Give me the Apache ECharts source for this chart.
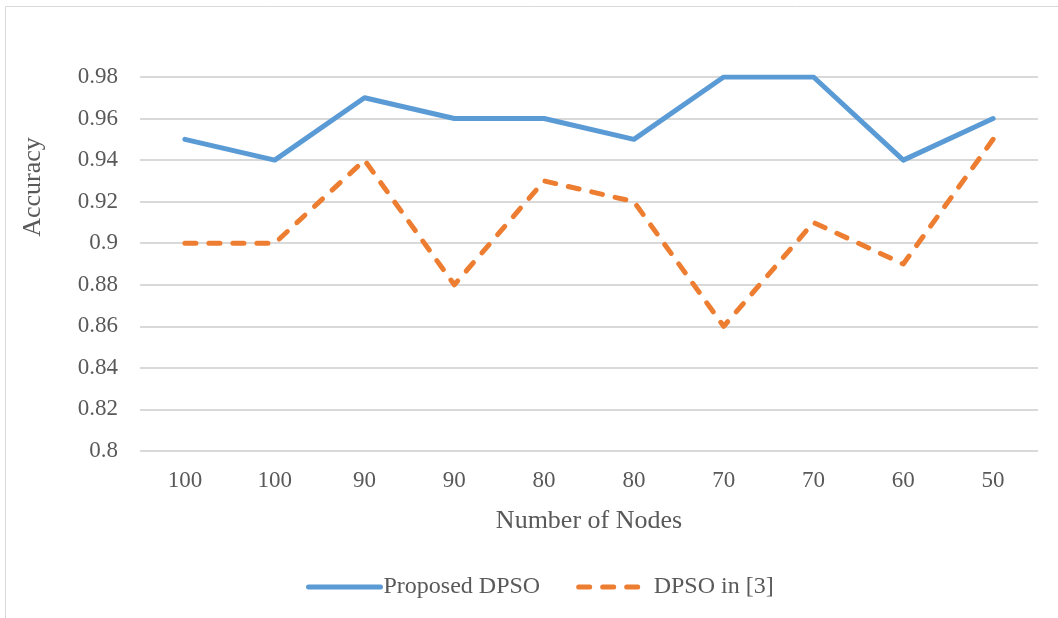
<!DOCTYPE html>
<html><head><meta charset="utf-8">
<script src="https://cdn.jsdelivr.net/npm/echarts@6/dist/echarts.min.js"></script>
<style>html,body{margin:0;padding:0;background:#fff}#c{width:1058px;height:618px}</style>
</head><body><div id="c"></div>
<script>
var categories = ['100','100','90','90','80','80','70','70','60','50'];
var proposed = [0.95,0.94,0.97,0.96,0.96,0.95,0.98,0.98,0.94,0.96];
var dpso3 = [0.90,0.90,0.94,0.88,0.93,0.92,0.86,0.91,0.89,0.95];
var yTicks = {min:0.8, max:0.98, step:0.02};

var font = 'Liberation Serif';
var blue = '#5b9bd5', orange = '#ed7d31';
var chart = echarts.init(document.getElementById('c'));
chart.setOption({
  animation:false,
  textStyle:{fontFamily:font},
  graphic:[
    {type:'rect', shape:{x:5.5,y:6.5,width:1060,height:620}, style:{fill:'none',stroke:'#d9d9d9',lineWidth:1}},
    {type:'text', x:33, y:187, rotation:Math.PI/2, style:{text:'Accuracy', fontFamily:font, fontSize:26, fill:'#595959', align:'center', verticalAlign:'middle'}}
  ],
  grid:{left:140, right:20, top:77, bottom:167},
  legend:{
    bottom:14, left:301, itemWidth:72, itemHeight:14, itemGap:36,
    itemStyle:{opacity:0},
    textStyle:{fontFamily:font, fontSize:24, color:'#595959', padding:[0,0,0,-2]},
    data:[
      {name:'Proposed DPSO', lineStyle:{color:blue, width:5, cap:'round'}},
      {name:'DPSO in [3]', lineStyle:{color:orange, width:5, type:[11,13], cap:'round'}}
    ]
  },
  xAxis:{
    type:'category', data:categories, boundaryGap:true,
    axisLine:{show:false}, axisTick:{show:false},
    axisLabel:{fontFamily:font, fontSize:23, color:'#595959', margin:18},
    name:'Number of Nodes', nameLocation:'middle', nameGap:57,
    nameTextStyle:{fontFamily:font, fontSize:26, color:'#595959'}
  },
  yAxis:{
    type:'value', min:yTicks.min, max:yTicks.max, interval:yTicks.step,
    axisLine:{show:false}, axisTick:{show:false},
    axisLabel:{fontFamily:font, fontSize:23, color:'#595959', margin:22},
    splitLine:{lineStyle:{color:'#d9d9d9', width:2}}
  },
  series:[
    {name:'Proposed DPSO', type:'line', data:proposed, symbol:'none',
     itemStyle:{color:blue},
     lineStyle:{color:blue, width:5, cap:'round', join:'round'}},
    {name:'DPSO in [3]', type:'line', data:dpso3, symbol:'none',
     itemStyle:{color:orange},
     lineStyle:{color:orange, width:5, type:[11,13], cap:'round', join:'round'}}
  ]
});
</script></body></html>
